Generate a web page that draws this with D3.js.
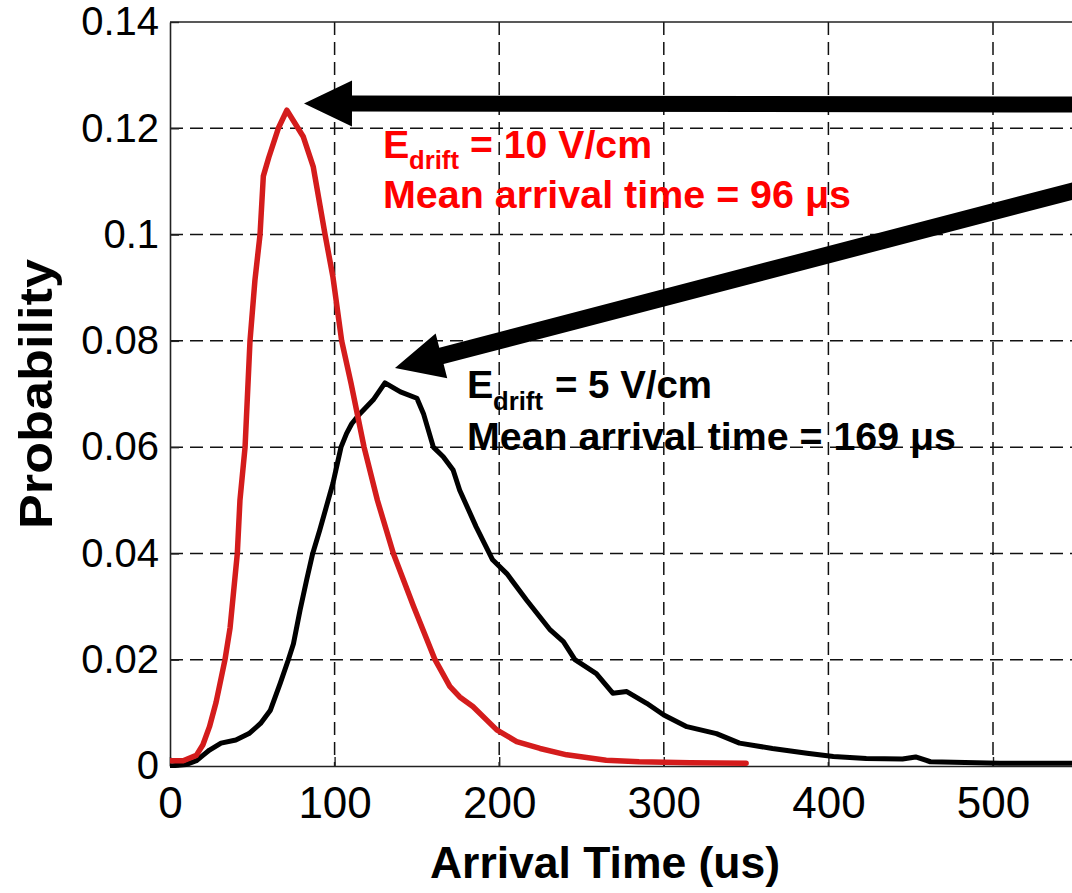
<!DOCTYPE html>
<html>
<head>
<meta charset="utf-8">
<script src="https://cdn.jsdelivr.net/npm/d3@7"></script>
<style>
  html, body { margin: 0; padding: 0; background: #fff; }
  svg { display: block; font-family: "Liberation Sans", Arial, sans-serif; }
</style>
</head>
<body>
<svg id="chart" width="1072" height="893"></svg>
<script>
// ---- data ----
const timeRed = [0, 8, 16, 20, 24, 28, 33.4, 36.5, 40.9, 42.5, 45.6, 48.6, 51.6, 54.7, 56.7, 60, 65.8, 71, 81, 87, 94.2, 99, 104.3, 110, 117.9, 126, 135.7, 148, 161, 170, 176, 184, 198.5, 210.6, 224.8, 241, 265, 285, 316, 350];
const probRed = [0.001, 0.001, 0.002, 0.004, 0.0074, 0.012, 0.02, 0.026, 0.04, 0.05, 0.06, 0.08, 0.0914, 0.1, 0.111, 0.1145, 0.12, 0.1234, 0.1184, 0.1128, 0.1, 0.092, 0.08, 0.072, 0.06, 0.05, 0.04, 0.03, 0.02, 0.015, 0.013, 0.0112, 0.0068, 0.0046, 0.0033, 0.0021, 0.0011, 0.0008, 0.0006, 0.0005];

const timeBlack = [0, 10, 16, 20, 24, 31, 40, 48, 55, 61, 67, 71.9, 75, 79, 83, 86.7, 91, 95, 99, 103.9, 107.3, 110.4, 115.4, 123.5, 130.6, 140, 150, 154, 160, 166, 172, 176, 186, 196, 204.6, 216.7, 231, 239, 246, 259, 269, 277.5, 289.6, 300, 314, 332, 346, 366, 387, 403, 423, 445, 453, 462, 504, 560];
const probBlack = [0, 0.0003, 0.001, 0.002, 0.003, 0.0043, 0.0049, 0.0061, 0.008, 0.0105, 0.0156, 0.02, 0.023, 0.0293, 0.035, 0.04, 0.0444, 0.0488, 0.0532, 0.06, 0.0626, 0.0644, 0.0663, 0.0689, 0.0721, 0.0704, 0.0692, 0.0663, 0.06, 0.0582, 0.0557, 0.0519, 0.045, 0.0388, 0.0362, 0.0312, 0.0256, 0.0234, 0.02, 0.0174, 0.0137, 0.014, 0.0118, 0.0096, 0.0074, 0.0061, 0.0043, 0.0033, 0.0024, 0.0018, 0.0014, 0.0013, 0.0017, 0.0008, 0.0005, 0.0005];

const xTicks = [0, 100, 200, 300, 400, 500];
const xTickLabels = ["0", "100", "200", "300", "400", "500"];
const yTicks = [0, 0.02, 0.04, 0.06, 0.08, 0.1, 0.12, 0.14];
const yTickLabels = ["0", "0.02", "0.04", "0.06", "0.08", "0.1", "0.12", "0.14"];

const xTitle = "Arrival Time (us)";
const yTitle = "Probability";
const redLabel = ["E", "drift", "= 10 V/cm", "Mean arrival time = 96 \u03bcs"];
const blackLabel = ["E", "drift", "= 5 V/cm", "Mean arrival time = 169 \u03bcs"];

// ---- layout ----
const svg = d3.select("#chart");
const pLeft = 170, pTop = 22, pBottom = 766, pRight = 1157.6;
const x = d3.scaleLinear().domain([0, 600]).range([pLeft, pRight]);
const y = d3.scaleLinear().domain([0, 0.14]).range([pBottom, pTop]);

svg.append("rect").attr("width", 1072).attr("height", 893).attr("fill", "#fff");

svg.append("defs").append("clipPath").attr("id", "plotclip")
  .append("rect").attr("x", pLeft).attr("y", pTop - 2).attr("width", pRight - pLeft).attr("height", pBottom - pTop + 4);

// grid
const grid = svg.append("g").attr("stroke", "#111").attr("stroke-width", 1.5).attr("stroke-dasharray", "13,7");
grid.selectAll(".vg").data(xTicks.filter(d => d > 0).concat([600])).enter().append("line")
  .attr("x1", d => x(d)).attr("x2", d => x(d)).attr("y1", pTop).attr("y2", pBottom);
grid.selectAll(".hg").data(yTicks.filter(d => d > 0 && d < 0.14)).enter().append("line")
  .attr("x1", pLeft).attr("x2", pRight).attr("y1", d => y(d)).attr("y2", d => y(d));

// axes
const xAxis = d3.axisBottom(x).tickValues(xTicks).tickFormat((d, i) => xTickLabels[i])
  .tickSizeInner(-9).tickSizeOuter(0).tickPadding(21);
const gx = svg.append("g").attr("transform", `translate(0,${pBottom})`).call(xAxis);
gx.selectAll("text").attr("font-size", 44).attr("font-family", "Liberation Sans, Arial, sans-serif").attr("fill", "#000");

const yAxis = d3.axisLeft(y).tickValues(yTicks).tickFormat((d, i) => yTickLabels[i])
  .tickSizeInner(-9).tickSizeOuter(0).tickPadding(11);
const gy = svg.append("g").attr("transform", `translate(${pLeft},0)`).call(yAxis);
gy.selectAll("text").attr("font-size", 40).attr("font-family", "Liberation Sans, Arial, sans-serif").attr("fill", "#000");

[gx, gy].forEach(g => {
  g.select(".domain").attr("stroke", "#222").attr("stroke-width", 1.6);
  g.selectAll(".tick line").attr("stroke", "#222").attr("stroke-width", 1.4);
});
// top frame line
svg.append("line").attr("x1", pLeft).attr("x2", pRight).attr("y1", pTop).attr("y2", pTop)
  .attr("stroke", "#222").attr("stroke-width", 1.6);

// curves
const line = d3.line().x(d => x(d[0])).y(d => y(d[1]));
const plot = svg.append("g").attr("clip-path", "url(#plotclip)");
plot.append("path").datum(timeBlack.map((t, i) => [t, probBlack[i]]))
  .attr("d", line).attr("fill", "none").attr("stroke", "#000").attr("stroke-width", 5)
  .attr("stroke-linejoin", "round").attr("stroke-linecap", "round");
plot.append("path").datum(timeRed.map((t, i) => [t, probRed[i]]))
  .attr("d", line).attr("fill", "none").attr("stroke", "#d41c1c").attr("stroke-width", 5.5)
  .attr("stroke-linejoin", "round").attr("stroke-linecap", "round");

// annotation arrows
function arrowPoly(x1, y1, x2, y2, shaftW, headW, headL) {
  const dx = x2 - x1, dy = y2 - y1, L = Math.hypot(dx, dy);
  const ux = dx / L, uy = dy / L, px = -uy, py = ux;
  const bx = x2 - ux * headL, by = y2 - uy * headL;
  const s = shaftW / 2, h = headW / 2;
  return [
    [x1 + px * s, y1 + py * s], [bx + px * s, by + py * s], [bx + px * h, by + py * h],
    [x2, y2],
    [bx - px * h, by - py * h], [bx - px * s, by - py * s], [x1 - px * s, y1 - py * s]
  ];
}
const arrows = [
  arrowPoly(1090, 104.5, 304, 103.5, 16, 46, 48),
  arrowPoly(1090, 186.5, 395, 368, 17, 46, 48)
];
svg.selectAll(".arrow").data(arrows).enter().append("polygon")
  .attr("points", d => d.map(p => p.join(",")).join(" ")).attr("fill", "#000");

// annotation text
function label(g, parts, color, ex, ey, subY, eqX, eqLen, l2y, l2Len) {
  const t = g.append("g").attr("fill", color).attr("font-weight", "bold")
    .attr("font-family", "Liberation Sans, Arial, sans-serif");
  t.append("text").attr("x", ex).attr("y", ey).attr("font-size", 39.5).text(parts[0]);
  t.append("text").attr("x", ex + 26).attr("y", subY).attr("font-size", 25.7).text(parts[1]);
  t.append("text").attr("x", eqX).attr("y", ey).attr("font-size", 39.5)
    .attr("textLength", eqLen).attr("lengthAdjust", "spacingAndGlyphs").text(parts[2]);
  t.append("text").attr("x", ex).attr("y", l2y).attr("font-size", 39.5)
    .attr("textLength", l2Len).attr("lengthAdjust", "spacingAndGlyphs").text(parts[3]);
}
label(svg, redLabel, "#ff0000", 383, 158.3, 169.3, 470, 182, 208.3, 468);
label(svg, blackLabel, "#000", 467, 398.3, 410, 555, 157, 450, 489);

// axis titles
svg.append("text").attr("x", 605).attr("y", 878).attr("text-anchor", "middle")
  .attr("font-size", 44).attr("font-weight", "bold").attr("textLength", 350)
  .attr("lengthAdjust", "spacingAndGlyphs").text(xTitle);
svg.append("text").attr("transform", "translate(52,394) rotate(-90)").attr("text-anchor", "middle")
  .attr("font-size", 46).attr("font-weight", "bold").attr("textLength", 270)
  .attr("lengthAdjust", "spacingAndGlyphs").text(yTitle);
</script>
</body>
</html>
